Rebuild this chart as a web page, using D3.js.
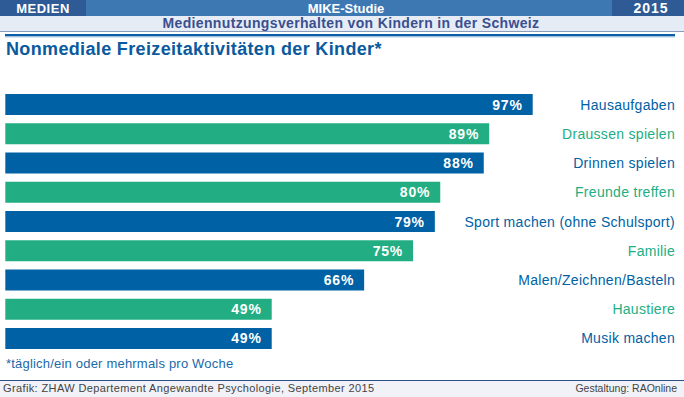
<!DOCTYPE html>
<html><head><meta charset="utf-8">
<script src="https://cdn.jsdelivr.net/npm/d3@7"></script>
<style>body{margin:0;background:#fff}svg{display:block}</style>
</head><body>
<svg id="c" width="684" height="397"></svg>
<script>
const categories = ["Hausaufgaben","Draussen spielen","Drinnen spielen","Freunde treffen","Sport machen (ohne Schulsport)","Familie","Malen/Zeichnen/Basteln","Haustiere","Musik machen"];
const values = [97,89,88,80,79,75,66,49,49];
const groups = ["blue","green","blue","green","blue","green","blue","green","blue"];

const colors = {blue:"#0061a5", green:"#22ae82"};
const F = "'Liberation Sans', Arial, sans-serif";
const svg = d3.select("#c");

// header
svg.append("rect").attr("x",0).attr("y",0).attr("width",684).attr("height",16).attr("fill","#3d78b3");
svg.append("rect").attr("x",0).attr("y",0).attr("width",86).attr("height",16).attr("fill","#2e5b96");
svg.append("rect").attr("x",612).attr("y",0).attr("width",72).attr("height",16).attr("fill","#2e5b96");
svg.append("rect").attr("x",0).attr("y",16).attr("width",684).attr("height",15).attr("fill","#e5ecf6");
svg.append("line").attr("x1",0).attr("x2",684).attr("y1",31.5).attr("y2",31.5).attr("stroke","#8a9cbc").attr("stroke-width",1);
svg.append("rect").attr("x",5).attr("y",34).attr("width",670).attr("height",2.5).attr("fill","#0a5ea8");
svg.append("line").attr("x1",5).attr("x2",675).attr("y1",37).attr("y2",37).attr("stroke","#b8cfe6").attr("stroke-width",1);

const hdr = (x,t,size,ls) => svg.append("text").attr("x",x).attr("y",13).attr("text-anchor","middle")
  .attr("font-family",F).attr("font-weight","bold").attr("font-size",size).attr("letter-spacing",ls).attr("fill","#fff").text(t);
hdr(43,"MEDIEN",13,0.5);
hdr(346,"MIKE-Studie",13,0);
hdr(651,"2015",14,1);
svg.append("text").attr("x",351).attr("y",28).attr("text-anchor","middle").attr("font-family",F)
  .attr("font-weight","bold").attr("font-size",14).attr("letter-spacing",0.35).attr("fill","#3b4f8f").text("Mediennutzungsverhalten von Kindern in der Schweiz");

svg.append("text").attr("x",6).attr("y",55).attr("font-family",F).attr("font-weight","bold")
  .attr("font-size",18).attr("letter-spacing",0.35).attr("fill","#0a5a9e").text("Nonmediale Freizeitaktivitäten der Kinder*");

// bars
const x = d3.scaleLinear().domain([0,100]).range([5.3,549]);
const y = d3.scaleBand().domain(categories).range([94,349]).paddingInner(0.282).paddingOuter(0);

const data = categories.map((c,i)=>({c, v:values[i], g:groups[i]}));
const g = svg.append("g");
g.selectAll("rect.bar").data(data).join("rect").attr("class","bar")
  .attr("x",x(0)).attr("y",d=>y(d.c)).attr("width",d=>x(d.v)-x(0)).attr("height",y.bandwidth())
  .attr("fill",d=>colors[d.g]);
g.selectAll("text.val").data(data).join("text").attr("class","val")
  .attr("x",d=>x(d.v)-10).attr("y",d=>y(d.c)+y.bandwidth()/2+5).attr("text-anchor","end")
  .attr("font-family",F).attr("font-weight","bold").attr("font-size",14).attr("letter-spacing",0.8).attr("fill","#fff")
  .text(d=>d.v+"%");
g.selectAll("text.lab").data(data).join("text").attr("class","lab")
  .attr("x",675).attr("y",d=>y(d.c)+y.bandwidth()/2+5).attr("text-anchor","end")
  .attr("font-family",F).attr("font-size",14).attr("letter-spacing",0.3).attr("fill",d=>colors[d.g])
  .text(d=>d.c);

svg.append("text").attr("x",6).attr("y",368).attr("font-family",F).attr("font-size",13).attr("letter-spacing",0.2)
  .attr("fill","#1a6aaa").text("*täglich/ein oder mehrmals pro Woche");

// footer
svg.append("rect").attr("x",0).attr("y",380).attr("width",684).attr("height",17).attr("fill","#f0f2f8");
svg.append("line").attr("x1",0).attr("x2",684).attr("y1",380.5).attr("y2",380.5).attr("stroke","#2e4f86").attr("stroke-width",1.2);
svg.append("text").attr("x",3).attr("y",392).attr("font-family",F).attr("font-size",11)
  .attr("fill","#444").attr("letter-spacing",0.38).text("Grafik: ZHAW Departement Angewandte Psychologie, September 2015");
svg.append("text").attr("x",677).attr("y",392).attr("text-anchor","end").attr("font-family",F).attr("font-size",10.5)
  .attr("fill","#444").text("Gestaltung: RAOnline");
</script>
</body></html>
